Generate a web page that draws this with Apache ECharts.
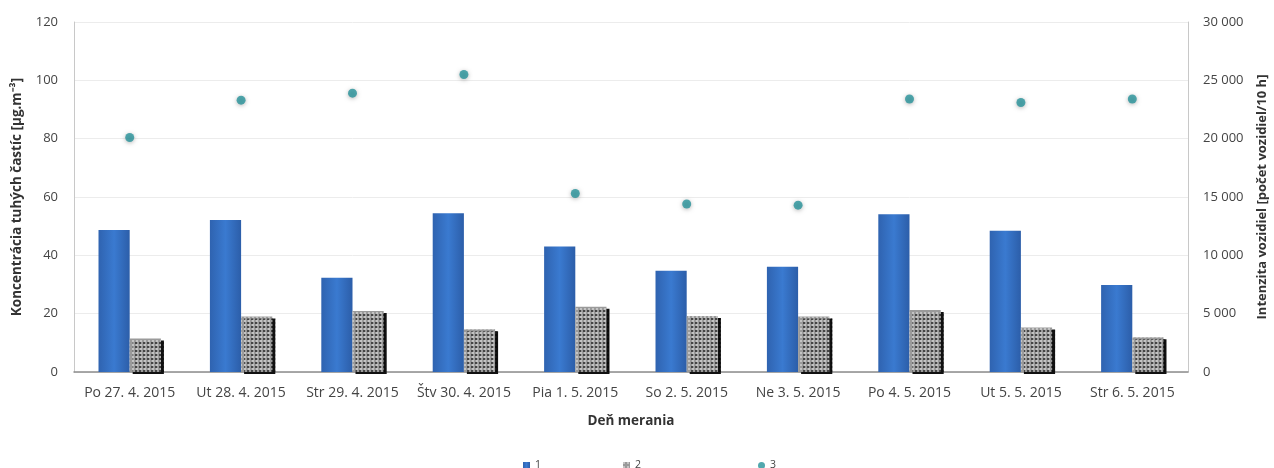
<!DOCTYPE html>
<html><head><meta charset="utf-8">
<script src="https://cdn.jsdelivr.net/npm/echarts@6/dist/echarts.min.js"></script>
<style>html,body{margin:0;padding:0;background:#fff}#c{width:1274px;height:468px}</style>
</head><body><div id="c"></div>
<script>
const categories = ['Po 27. 4. 2015','Ut 28. 4. 2015','Str 29. 4. 2015','Štv 30. 4. 2015','Pia 1. 5. 2015','So 2. 5. 2015','Ne 3. 5. 2015','Po 4. 5. 2015','Ut 5. 5. 2015','Str 6. 5. 2015'];
const series1 = [48.7, 52.1, 32.3, 54.4, 43.0, 34.7, 36.1, 54.1, 48.4, 29.8];
const series2 = [11.5, 19.0, 20.9, 14.7, 22.4, 19.2, 19.0, 21.3, 15.3, 11.9];
const series3 = [20100, 23300, 23900, 25500, 15300, 14400, 14300, 23400, 23100, 23400];
const leftTicks = [0, 20, 40, 60, 80, 100, 120];
const rightTicks = [0, 5000, 10000, 15000, 20000, 25000, 30000];

const font = 'Open Sans';
const chart = echarts.init(document.getElementById('c'), null, {renderer:'canvas'});
const legendBase = {top: 455, itemWidth: 7, itemHeight: 7, itemGap: 4,
  textStyle:{fontFamily:font, fontSize:10.5, color:'#444'}};
chart.setOption({
  animation:false,
  textStyle:{fontFamily:font},
  grid:{left:74, right:86, top:22, bottom:96, containLabel:false, outerBoundsMode:'none'},
  legend:[
    Object.assign({}, legendBase, {left:518, data:[{name:'1', icon:'rect'}]}),
    Object.assign({}, legendBase, {left:618, data:[{name:'2', icon:'rect'}]}),
    Object.assign({}, legendBase, {left:753, data:[{name:'3', icon:'circle'}]})
  ],
  xAxis:{type:'category', data:categories,
    name:'Deň merania', nameLocation:'middle', nameGap:42,
    nameTextStyle:{fontFamily:font, fontSize:13.5, fontWeight:'bold', color:'#333'},
    axisLine:{lineStyle:{color:'#8c8c8c', width:1.5}}, axisTick:{show:false},
    axisLabel:{fontFamily:font, fontSize:14, color:'#444', margin:14, interval:0}},
  yAxis:[
    {type:'value', min:0, max:120, interval:20,
     name:'Koncentrácia tuhých častíc [µg.m\u207B\u00B3]', nameLocation:'middle', nameGap:50, nameRotate:90,
     nameTextStyle:{fontFamily:font, fontSize:13.5, fontWeight:'bold', color:'#333'},
     axisLine:{show:true, lineStyle:{color:'#c8c8c8'}}, axisTick:{show:false},
     axisLabel:{fontFamily:font, fontSize:13, color:'#444', margin:16,
       customValues: leftTicks},
     splitLine:{lineStyle:{color:'#ececec'}}},
    {type:'value', min:0, max:30000, interval:5000,
     name:'Intenzita vozidiel [počet vozidiel/10 h]', nameLocation:'middle', nameGap:68, nameRotate:90,
     nameTextStyle:{fontFamily:font, fontSize:13, fontWeight:'bold', color:'#333'},
     axisLine:{show:true, lineStyle:{color:'#c8c8c8'}}, axisTick:{show:false},
     axisLabel:{fontFamily:font, fontSize:13, color:'#444', margin:15,
       customValues: rightTicks,
       formatter: v => String(v).replace(/\B(?=(\d{3})+(?!\d))/g, ' ')},
     splitLine:{show:false}}
  ],
  series:[
    {name:'1', type:'bar', yAxisIndex:0, data:series1, barGap:'0%', barCategoryGap:'44%',
     itemStyle:{color:new echarts.graphic.LinearGradient(0,0,1,0,[
       {offset:0,color:'#2f63b0'},{offset:0.5,color:'#3a7ad0'},{offset:1,color:'#2c5ea9'}])}},
    {name:'2', type:'bar', yAxisIndex:0, data:series2,
     itemStyle:{color:'#9a9a9a', shadowColor:'#111', shadowOffsetX:3, shadowOffsetY:2, shadowBlur:0,
       decal:{symbol:'rect', color:'rgba(230,230,230,0.55)', dashArrayX:[2,2], dashArrayY:[2,2], symbolSize:1, rotation:0}}},
    {name:'3', type:'scatter', yAxisIndex:1, data:series3, symbol:'circle', symbolSize:9,
     itemStyle:{color:'#27929a', shadowColor:'rgba(0,0,0,0.35)', shadowBlur:4, shadowOffsetY:1}}
  ]
});
</script></body></html>
